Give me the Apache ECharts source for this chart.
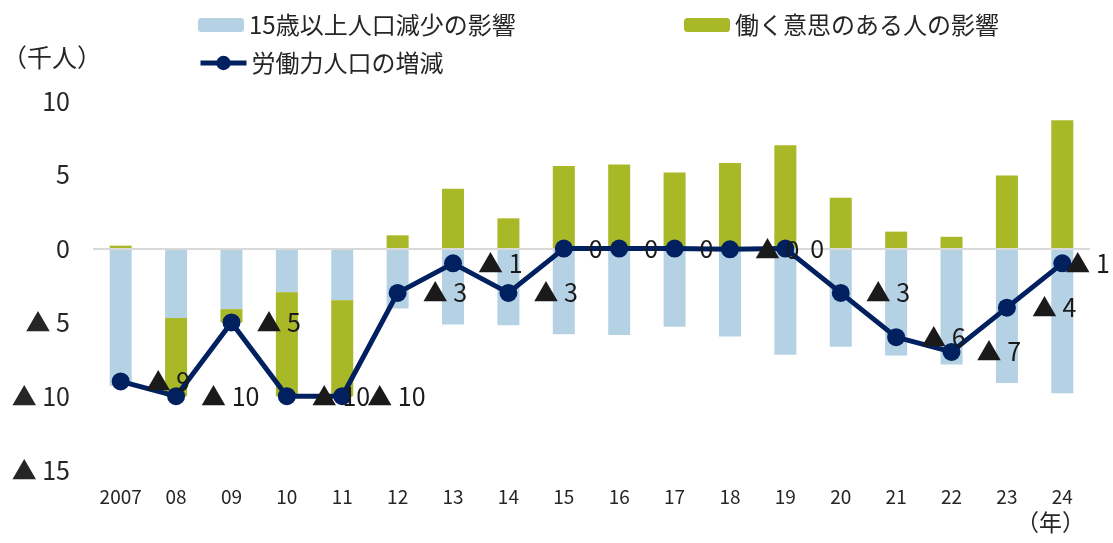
<!DOCTYPE html>
<html>
<head>
<meta charset="utf-8">
<script src="https://cdn.jsdelivr.net/npm/echarts@6/dist/echarts.min.js"></script>
<style>
    html, body { margin: 0; padding: 0; background: #fff; }
    #main { width: 1113px; height: 543px; }
</style>
</head>
<body>
<div id="main"></div>
<script>
// 年（2007〜2024）
var years = ['2007', '08', '09', '10', '11', '12', '13', '14', '15', '16', '17', '18', '19', '20', '21', '22', '23', '24'];
// 15歳以上人口減少の影響（千人）
var popEffect = [-9.3, -4.7, -4.1, -2.95, -3.5, -4.05, -5.15, -5.2, -5.8, -5.85, -5.3, -5.95, -7.2, -6.65, -7.25, -7.85, -9.1, -9.8];
// 働く意思のある人の影響（千人）
var willEffect = [0.2, -5.3, -0.9, -7.05, -6.5, 0.9, 4.05, 2.05, 5.6, 5.7, 5.15, 5.8, 7.0, 3.45, 1.15, 0.8, 4.95, 8.7];
// 労働力人口の増減（千人）
var laborChange = [-9, -10, -5, -10, -10, -3, -1, -3, 0, 0, 0, -0.05, 0, -3, -6, -7, -4, -1];

var FONT = '"Noto Sans CJK JP", "Noto Sans", sans-serif';
var TXT = '#262626';

function tri(v) {
    if (v < 0) {
        return '▲ ' + Math.round(Math.abs(v));
    }
    return String(Math.round(v));
}

var lineData = laborChange.map(function (v, i) {
    var item = { value: v };
    if (i === laborChange.length - 1) {
        item.label = { distance: 0, offset: [-6, 0] };
    }
    return item;
});

var chart = echarts.init(document.getElementById('main'));
chart.setOption({
    animation: false,
    textStyle: { fontFamily: FONT },
    grid: { left: 93, right: 23, top: 101, bottom: 73 },
    legend: [
        {
            left: 193, top: 8, itemWidth: 46, itemHeight: 14, itemGap: 0,
            data: ['15歳以上人口減少の影響'],
            textStyle: { fontSize: 24, color: TXT, fontFamily: FONT }
        },
        {
            left: 679, top: 8, itemWidth: 46, itemHeight: 14, itemGap: 0,
            data: ['働く意思のある人の影響'],
            textStyle: { fontSize: 24, color: TXT, fontFamily: FONT }
        },
        {
            left: 193, top: 46, itemWidth: 46, itemHeight: 18, itemGap: 0,
            data: ['労働力人口の増減'],
            lineStyle: { width: 5 },
            textStyle: { fontSize: 24, color: TXT, fontFamily: FONT }
        }
    ],
    xAxis: {
        type: 'category',
        data: years,
        axisLine: { show: false, onZero: false },
        axisTick: { show: false },
        axisLabel: { interval: 0, fontSize: 19, color: TXT, margin: 17, fontFamily: FONT }
    },
    yAxis: {
        type: 'value',
        min: -15,
        max: 10,
        interval: 5,
        splitLine: { show: false },
        axisLine: { show: false },
        axisTick: { show: false },
        axisLabel: { fontSize: 25, color: TXT, margin: 23, fontFamily: FONT, formatter: tri }
    },
    graphic: [
        {
            type: 'text', left: 2, top: 45,
            style: { text: '（千人）', fontSize: 25, fill: TXT, fontFamily: FONT }
        },
        {
            type: 'text', left: 1016, top: 511,
            style: { text: '（年）', fontSize: 23, fill: TXT, fontFamily: FONT }
        }
    ],
    series: [
        {
            name: '15歳以上人口減少の影響',
            type: 'bar',
            stack: 'total',
            barWidth: 22,
            itemStyle: { color: '#b4d2e4' },
            data: popEffect,
            markLine: {
                silent: true,
                symbol: 'none',
                label: { show: false },
                lineStyle: { color: '#d9d9d9', width: 2, type: 'solid' },
                data: [{ yAxis: 0 }]
            }
        },
        {
            name: '働く意思のある人の影響',
            type: 'bar',
            stack: 'total',
            barWidth: 22,
            itemStyle: { color: '#a8b826' },
            data: willEffect
        },
        {
            name: '労働力人口の増減',
            type: 'line',
            symbol: 'circle',
            symbolSize: 18,
            z: 5,
            lineStyle: { color: '#002060', width: 5 },
            itemStyle: { color: '#002060' },
            label: {
                show: true,
                position: 'right',
                distance: 16,
                fontSize: 25,
                color: '#1a1a1a',
                fontFamily: FONT,
                formatter: function (p) { return tri(p.value); }
            },
            data: lineData
        }
    ]
});
</script>
</body>
</html>
